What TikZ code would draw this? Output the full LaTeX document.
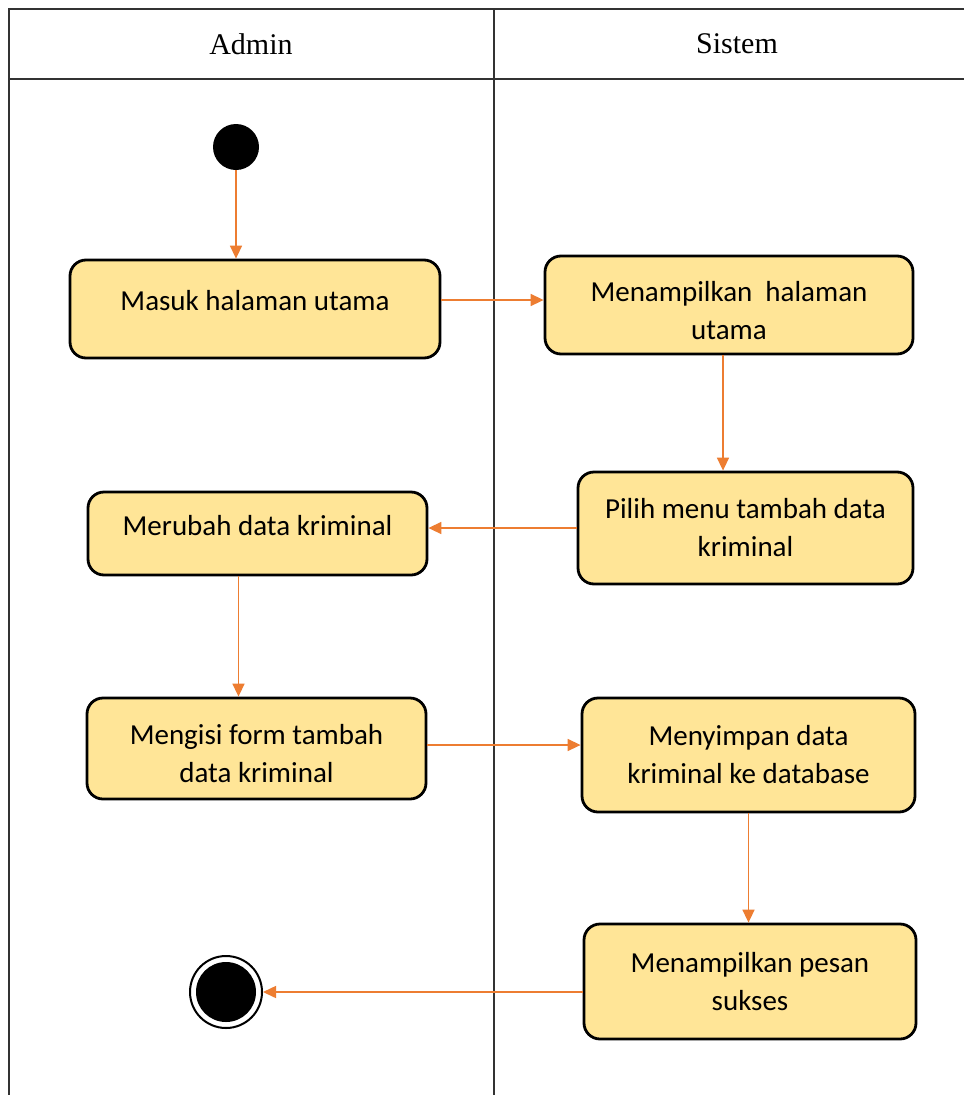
\documentclass[tikz,border=0pt]{standalone}
\usepackage{fontspec}
\setmainfont{Liberation Serif}
\newfontfamily\boxfont{Carlito}
\usetikzlibrary{arrows.meta}
\definecolor{flow}{HTML}{ED7D31}
\definecolor{actfill}{HTML}{FFE597}
\begin{document}
\begin{tikzpicture}[x=1pt,y=-1pt,
  lane/.style={draw=black!80, line width=1.6pt},
  lanetitle/.style={font=\fontsize{30}{34}\selectfont},
  action/.style={draw=black, line width=2.8pt, fill=actfill, rounded corners=16pt,
    font=\boxfont\fontsize{29}{38}\selectfont, align=center, inner sep=0pt},
  flowline/.style={draw=flow, line width=1.5pt, -{Triangle[length=13pt,width=12pt]}},
]
\useasboundingbox (0,0) rectangle (964,1095);
\fill[white] (0,0) rectangle (964,1095);

% swimlane frame
\draw[lane] (964,9) -- (9,9) -- (9,1095);
\draw[lane] (9,79) -- (964,79);
\draw[lane] (494,9) -- (494,1095);
\node[lanetitle] (admin) at (251,44) {Admin};
\node[lanetitle] (sistem) at (737,44) {Sistem};

% initial and final states
\fill (236,147) circle (23pt);
\coordinate (start) at (236,170);
\node[circle, draw, line width=2pt, minimum size=72pt, inner sep=0pt,
  path picture={\fill (path picture bounding box.center) circle (30pt);}] (end) at (226,992) {};

% actions (struts and raised boxes nudge the text inside its box)
\node[action, minimum width=370pt, minimum height=98pt] (masuk) at (255,309) {\raisebox{18pt}{Masuk halaman utama}};
\node[action, minimum width=368pt, minimum height=98pt] (tampil) at (729,305) {\rule{0pt}{31pt}Menampilkan~ halaman\\utama};
\node[action, minimum width=335pt, minimum height=112pt] (pilih) at (745.5,528) {Pilih menu tambah data\\kriminal};
\node[action, minimum width=339pt, minimum height=83pt] (ubah) at (257.5,533.5) {\raisebox{16pt}{Merubah data kriminal}};
\node[action, minimum width=339pt, minimum height=101pt] (isi) at (256.5,748.5) {\rule{0pt}{30pt}Mengisi form tambah\\data kriminal};
\node[action, minimum width=333pt, minimum height=114pt] (simpan) at (748.5,755) {Menyimpan data\\kriminal ke database};
\node[action, minimum width=332pt, minimum height=115pt] (pesan) at (750,981.5) {Menampilkan pesan\\sukses};

% control flow
\draw[flowline] (start) -- (start |- masuk.north);
\draw[flowline] ([yshift=9pt]masuk.east) -- ([yshift=9pt]masuk.east -| tampil.west);
\draw[flowline] ([xshift=-6pt]tampil.south) -- ([xshift=-6pt]tampil.south |- pilih.north);
\draw[flowline] (pilih.west) -- (pilih.west -| ubah.east);
\draw[flowline] ([xshift=-19pt]ubah.south) -- ([xshift=-19pt]ubah.south |- isi.north);
\draw[flowline] ([yshift=3.5pt]isi.east) -- ([yshift=3.5pt]isi.east -| simpan.west);
\draw[flowline] (simpan.south) -- (simpan.south |- pesan.north);
\draw[flowline] ([yshift=-10.5pt]pesan.west) -- (end.east);
\end{tikzpicture}
\end{document}
